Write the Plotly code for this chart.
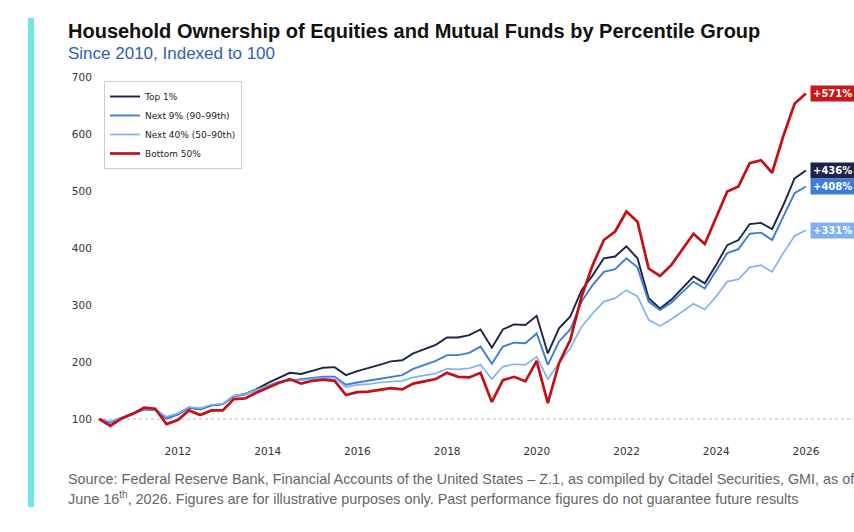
import pandas as pd
import plotly.graph_objects as go

dates = pd.date_range("2010-03-31", periods=64, freq="QE")

top1 = [100, 94, 102, 110, 117, 116, 101, 108, 120, 117, 124, 126, 140, 144, 152, 163,
        172, 181, 179, 185, 190, 191, 177, 184, 189, 195, 201, 203, 215, 223, 230, 243,
        243, 247, 257, 225, 257, 266, 265, 281, 215, 259, 280, 326, 352, 382, 385, 403,
        382, 312, 294, 309, 329, 350, 338, 370, 405, 414, 442, 444, 433, 475, 522, 536]
next9 = [100, 94, 102, 110, 118, 116, 102, 108, 120, 117, 124, 126, 140, 143, 151, 158,
         165, 168, 170, 172, 174, 174, 160, 164, 167, 170, 174, 177, 188, 195, 202, 212,
         212, 216, 227, 197, 227, 234, 233, 250, 195, 236, 257, 306, 335, 358, 363, 382,
         366, 306, 291, 304, 322, 341, 329, 361, 391, 398, 425, 427, 414, 455, 496, 508]
next40 = [100, 96, 103, 111, 118, 117, 104, 110, 121, 119, 125, 127, 141, 144, 151, 157,
          164, 168, 168, 170, 172, 172, 156, 160, 161, 164, 166, 167, 173, 177, 180, 188,
          187, 189, 195, 170, 192, 196, 195, 209, 170, 198, 224, 262, 285, 306, 312, 326,
          315, 274, 263, 275, 288, 302, 292, 315, 341, 345, 366, 370, 358, 391, 421, 431]
bottom50 = [100, 88, 101, 109, 120, 118, 91, 98, 115, 107, 115, 115, 135, 136, 146, 155,
            163, 170, 162, 167, 169, 167, 142, 147, 148, 151, 154, 152, 162, 166, 170, 181,
            174, 173, 181, 130, 168, 174, 166, 202, 128, 198, 239, 315, 370, 414, 429, 464,
            446, 364, 351, 370, 397, 425, 407, 452, 499, 508, 549, 554, 532, 596, 653, 671]

names = ["Top 1%", "Next 9% (90–99th)", "Next 40% (50–90th)", "Bottom 50%"]
series = [top1, next9, next40, bottom50]
colors = ["#1b2449", "#3d7dd8", "#82b2f5", "#c40f14"]
widths = [1.9, 1.9, 1.7, 2.7]
label_colors = ["#1c2448", "#3b7ddb", "#7eb0f7", "#c8171d"]

y_ticks = [100, 200, 300, 400, 500, 600, 700]
x_tick_years = [2012, 2014, 2016, 2018, 2020, 2022, 2024, 2026]

title = "Household Ownership of Equities and Mutual Funds by Percentile Group"
subtitle = "Since 2010, Indexed to 100"
source1 = "Source: Federal Reserve Bank, Financial Accounts of the United States – Z.1, as compiled by Citadel Securities, GMI, as of"
source2 = "June 16<sup>th</sup>, 2026. Figures are for illustrative purposes only. Past performance figures do not guarantee future results"

# layout geometry (pixels)
W, H = 854, 532
L, R, T, B = 97, 0, 70, 97
PW, PH = W - L - R, H - T - B


def px(x):
    return (x - L) / PW


def py(y):
    return (H - B - y) / PH


fig = go.Figure()
for name, vals, c, w in zip(names, series, colors, widths):
    fig.add_trace(go.Scatter(x=dates, y=vals, mode="lines", name=name,
                             line=dict(color=c, width=w)))

annotations = []
for name, vals, c in zip(names, series, label_colors):
    pct = vals[-1] - 100
    annotations.append(dict(
        x=dates[-1], y=vals[-1], xref="x", yref="y", xanchor="left", yanchor="middle",
        xshift=4, text=f"<b>+{pct}%</b>", showarrow=False, bgcolor=c, borderpad=2,
        font=dict(family="DejaVu Sans", size=10, color="white")))

annotations += [
    dict(x=px(66), y=py(31), xref="paper", yref="paper", xanchor="left", yanchor="middle",
         text=f"<b>{title}</b>", showarrow=False,
         font=dict(family="Liberation Sans, Arial", size=20, color="#111111")),
    dict(x=px(66), y=py(53), xref="paper", yref="paper", xanchor="left", yanchor="middle",
         text=subtitle, showarrow=False,
         font=dict(family="Liberation Sans, Arial", size=17, color="#2f5fb3")),
    dict(x=px(66), y=py(479), xref="paper", yref="paper", xanchor="left", yanchor="middle",
         text=source1, showarrow=False,
         font=dict(family="Liberation Sans, Arial", size=14.4, color="#666666")),
    dict(x=px(66), y=py(498), xref="paper", yref="paper", xanchor="left", yanchor="middle",
         text=source2, showarrow=False,
         font=dict(family="Liberation Sans, Arial", size=14.4, color="#666666")),
]

shapes = [
    dict(type="line", xref="paper", yref="y", x0=0, x1=1, y0=100, y1=100,
         line=dict(color="#bbbbbb", width=1, dash="dot"), layer="below"),
    dict(type="rect", xref="paper", yref="paper", x0=px(28), x1=px(34), y0=py(507), y1=py(18),
         fillcolor="#72e3ea", line=dict(width=0)),
]

fig.update_layout(
    width=W, height=H,
    margin=dict(l=L, r=R, t=T, b=B),
    paper_bgcolor="white", plot_bgcolor="white",
    showlegend=True,
    legend=dict(x=px(104), y=py(81), xanchor="left", yanchor="top",
                bgcolor="white", bordercolor="#cccccc", borderwidth=1,
                font=dict(family="DejaVu Sans", size=9, color="#222222"),
                itemwidth=30, tracegroupgap=0),
    xaxis=dict(type="date", range=["2010-03-13", "2027-01-27"],
               tickvals=[f"{y}-01-01" for y in x_tick_years],
               ticktext=[str(y) for y in x_tick_years],
               showgrid=False, zeroline=False, showline=False,
               ticks="outside", ticklen=6, tickcolor="rgba(0,0,0,0)",
               tickfont=dict(family="DejaVu Sans", size=10.5, color="#333333")),
    yaxis=dict(range=[71.9, 712.3], tickvals=y_ticks,
               showgrid=False, zeroline=False, showline=False,
               ticks="outside", ticklen=2, tickcolor="rgba(0,0,0,0)",
               tickfont=dict(family="DejaVu Sans", size=10.5, color="#333333")),
    annotations=annotations,
    shapes=shapes,
)

fig.write_html("out.html")
